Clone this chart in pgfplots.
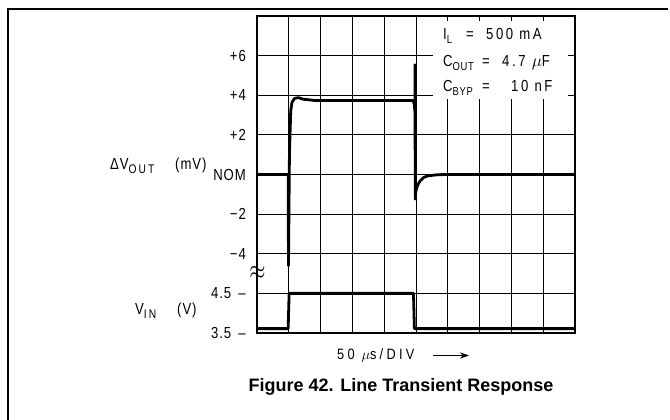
\documentclass[border=0pt]{standalone}
\usepackage{fontspec}
\setmainfont{Liberation Sans}
\newfontfamily\chartfont{Liberation Sans}[FakeStretch=0.82, LetterSpace=6]
\newfontfamily\legfont{Liberation Sans}[FakeStretch=0.82, LetterSpace=16]
\newfontfamily\widefont{Liberation Sans}[FakeStretch=0.85, LetterSpace=22]
\usepackage{pgfplots}
\pgfplotsset{compat=1.18}
\usetikzlibrary{arrows.meta}
\newcommand{\sub}[1]{\raisebox{-0.45ex}{\chartfont\fontsize{11.5}{12}\selectfont #1}}
\newcommand{\asub}[1]{\raisebox{-0.45ex}{\legfont\fontsize{12.5}{13}\selectfont #1}}
\newcommand{\lbl}{\chartfont\fontsize{16}{18}\selectfont}
\newcommand{\leg}{\legfont\fontsize{16}{18}\selectfont}
\begin{document}
\begin{tikzpicture}[x=1pt,y=1pt,
  t/.style={anchor=base west,inner sep=0pt,font=\lbl},
  l/.style={anchor=base west,inner sep=0pt,font=\leg}]
\begin{axis}[
  at={(257pt,87pt)}, anchor=south west,
  width=318pt, height=317pt, scale only axis,
  xmin=0, xmax=10, ymin=0, ymax=8,
  xtick={0,...,10}, xticklabels={},
  ytick={0,...,7},
  yticklabels={3.5 \,–, 4.5 \,–, −4, −2, NOM, +2, +4, +6},
  major tick length=0pt,
  grid=major,
  major grid style={black, line width=0.9pt},
  axis line style={black, line width=1.2pt},
  yticklabel style={anchor=east, font=\lbl, inner sep=0pt, xshift=-11pt},
  clip=false,
]
% Delta V_OUT in divisions (NOM = 4, 2 mV/div)
\addplot[black, line width=2.8pt, line join=round] coordinates {
(0,4) (0.98,4) (0.99,1.70) (1.02,4.5) (1.06,5.6) (1.1,5.82) (1.18,5.92) (1.3,5.94)
(1.45,5.9) (1.8,5.87) (4.9,5.87) (4.94,5.8) (4.965,5.6) (4.97,6.77) (4.975,3.38)
(4.99,3.55) (5.02,3.66) (5.07,3.76) (5.13,3.84) (5.25,3.93) (5.4,3.97) (5.7,3.995) (6.0,4.0) (10,4.0)
};
% V_IN in divisions (3.5 V = 0, 1 V/div)
\addplot[black, line width=2.8pt, line join=round] coordinates {
(0,0.11) (0.98,0.11) (1.01,1.0) (4.92,1.0) (4.95,0.11) (10,0.11)
};
\end{axis}
% legend box
\fill[white] (433,321) rectangle (568,399);
\node[l] at (443,380) {I\sub{L}};
\node[l] at (466,380) {=};
\node[l] at (486,380) {500 mA};
\node[l] at (443,353) {C\sub{OUT}};
\node[l] at (482,353) {=};
\node[l] at (502,353) {4.7 $\mu$F};
\node[l] at (443,328) {C\sub{BYP}};
\node[l] at (482,328) {=};
\node[l] at (511,328) {10 nF};
% axis labels
\node[t] at (110,250) {ΔV\asub{OUT}};
\node[t] at (175,250) {(mV)};
\node[t] at (135,105) {V\asub{IN}};
\node[t] at (177,105) {(V)};
\node[inner sep=0pt] at (257.5,147) {\fontsize{20}{20}\selectfont\scalebox{1}[1.3]{$\approx$}};
\node[anchor=base west,inner sep=0pt,font=\widefont\fontsize{15}{17}\selectfont] at (337,60) {50 $\mu$s/DIV};
\draw[line width=1pt,-{Stealth[length=9pt,width=6pt]}] (433,64.5) -- (469,64.5);
\node[anchor=base,inner sep=0pt,font=\fontsize{18}{21}\selectfont\bfseries] at (401,28) {Figure 42. Line Transient Response};
% outer frame
\draw[line width=1.2pt] (8,-5) -- (8,411) -- (668,411);
\pgfresetboundingbox
\useasboundingbox (0,0) rectangle (670,420);
\end{tikzpicture}
\end{document}
